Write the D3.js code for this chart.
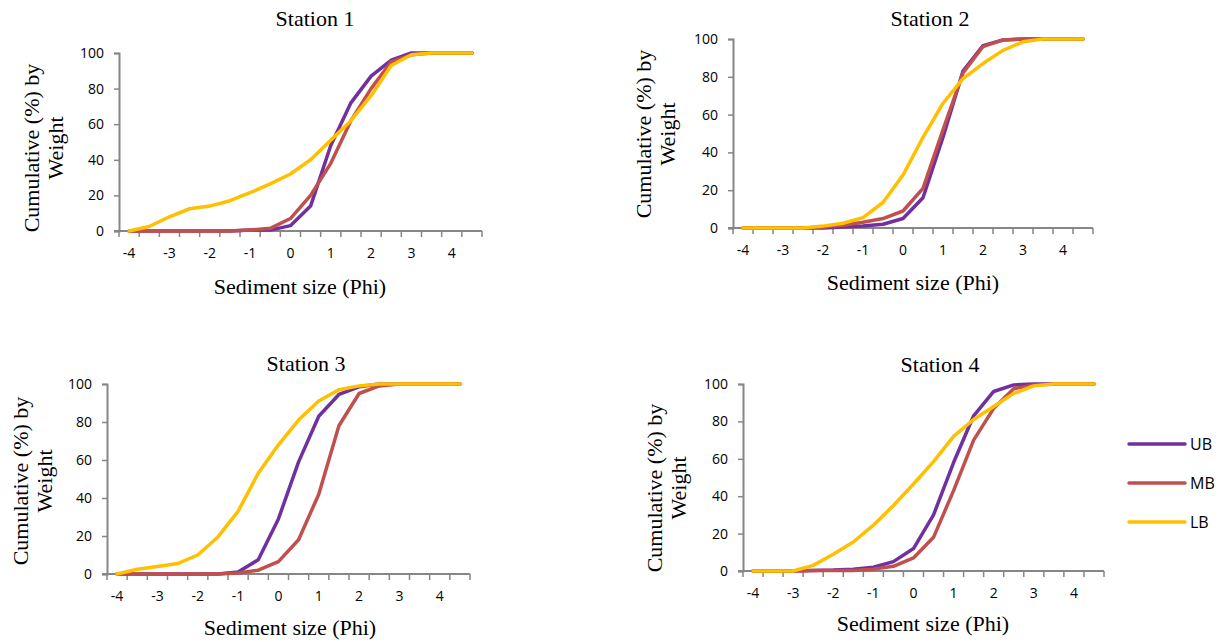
<!DOCTYPE html>
<html>
<head>
<meta charset="utf-8">
<script src="https://cdn.jsdelivr.net/npm/d3@7"></script>
<style>
  body { margin: 0; background: #fff; }
</style>
</head>
<body>
<div id="chart"></div>
<script>
// phi classes on the category axis
const phi = [-4, -3.5, -3, -2.5, -2, -1.5, -1, -0.5, 0, 0.5, 1, 1.5, 2, 2.5, 3, 3.5, 4, 4.5];
const seriesNames = ["UB", "MB", "LB"];
const yTicks = [0, 20, 40, 60, 80, 100];

// cumulative % by weight
const st1UB = [0, 0, 0, 0, 0, 0, 0.5, 0.5, 3, 14, 48, 72, 87, 96, 100, 100, 100, 100];
const st1MB = [0, 0, 0, 0, 0, 0, 0.5, 1.5, 7, 20, 38, 62, 80, 95, 99, 100, 100, 100];
const st1LB = [0, 2.5, 8, 12.5, 14, 17, 21.5, 26.5, 32, 40, 51, 62, 76, 93, 99, 100, 100, 100];

const st2UB = [0, 0, 0, 0, 0, 0.5, 1, 2, 5, 16, 48, 83, 96.5, 99.5, 100, 100, 100, 100];
const st2MB = [0, 0, 0, 0, 0.5, 1.5, 3, 5, 9, 21, 52, 82, 96, 99.5, 100, 100, 100, 100];
const st2LB = [0, 0, 0, 0, 1, 2.5, 5.5, 13.5, 28, 48, 66, 79, 87, 94, 98.5, 100, 100, 100];

const st3UB = [0, 0, 0, 0, 0, 0, 1, 7.5, 29, 59, 83, 94.5, 98.5, 100, 100, 100, 100, 100];
const st3MB = [0, 0, 0, 0, 0, 0, 0.5, 2, 6.5, 18, 42, 78, 95, 99, 100, 100, 100, 100];
const st3LB = [0, 2.5, 4, 5.5, 10, 19.5, 33, 53, 68, 81, 91, 97, 99, 100, 100, 100, 100, 100];

const st4UB = [0, 0, 0, 0.3, 0.5, 1, 2, 5, 12, 30, 58, 83, 96, 99.5, 100, 100, 100, 100];
const st4MB = [0, 0, 0, 0.3, 0.3, 0.3, 1, 2.5, 7, 18, 43, 70, 87, 97.5, 99.5, 100, 100, 100];
const st4LB = [0, 0, 0, 3, 9, 15.5, 24.5, 35, 46.5, 58.5, 72, 81, 88, 95, 99, 100, 100, 100];

const colors = { UB: "#7030A0", MB: "#C0504D", LB: "#FFC000" };

const panels = [
  { title: "Station 1", series: { UB: st1UB, MB: st1MB, LB: st1LB },
    left: 119, right: 482, top: 53, bottom: 231, titleX: 315, titleY: 26, xTitleX: 300, xTitleY: 294, yTitleX: 32, yTitleY: 148 },
  { title: "Station 2", series: { UB: st2UB, MB: st2MB, LB: st2LB },
    left: 733, right: 1093, top: 39, bottom: 228, titleX: 930, titleY: 26, xTitleX: 913, xTitleY: 290, yTitleX: 644, yTitleY: 134 },
  { title: "Station 3", series: { UB: st3UB, MB: st3MB, LB: st3LB },
    left: 107, right: 470, top: 384, bottom: 574, titleX: 306, titleY: 371, xTitleX: 290, xTitleY: 635, yTitleX: 21, yTitleY: 481 },
  { title: "Station 4", series: { UB: st4UB, MB: st4MB, LB: st4LB },
    left: 743, right: 1104, top: 384, bottom: 571, titleX: 940, titleY: 372, xTitleX: 923, xTitleY: 631, yTitleX: 655, yTitleY: 488 }
];

const serif = "'Liberation Serif', 'DejaVu Serif', serif";
const sans = "'Open Sans', 'Liberation Sans', sans-serif";

const svg = d3.select("#chart").append("svg")
  .attr("width", 1224)
  .attr("height", 642);

const axisColor = "#868686";

panels.forEach(p => {
  const x = d3.scaleBand().domain(phi).range([p.left, p.right]).padding(0);
  const y = d3.scaleLinear().domain([0, 100]).range([p.bottom, p.top]);
  const g = svg.append("g");

  // y axis
  const yAxis = g.append("g")
    .attr("transform", `translate(${p.left},0)`)
    .call(d3.axisLeft(y).tickValues(yTicks).tickSize(5).tickPadding(10));
  yAxis.select(".domain").attr("stroke", axisColor).attr("stroke-width", 2);
  yAxis.selectAll(".tick line").attr("stroke", axisColor).attr("stroke-width", 1.5);
  yAxis.selectAll(".tick text")
    .style("font-family", sans).style("font-size", "14px").attr("fill", "#000");

  // x axis (category boundaries)
  const bounds = phi.map(c => x(c)).concat([p.right]);
  g.append("line")
    .attr("x1", p.left - 5).attr("x2", p.right)
    .attr("y1", p.bottom).attr("y2", p.bottom)
    .attr("stroke", axisColor).attr("stroke-width", 2);
  g.selectAll(".xtick").data(bounds).join("line")
    .attr("x1", d => d).attr("x2", d => d)
    .attr("y1", p.bottom).attr("y2", p.bottom + 6)
    .attr("stroke", axisColor).attr("stroke-width", 1.5);
  g.selectAll(".xlab").data(phi.filter(c => Number.isInteger(c))).join("text")
    .style("font-family", sans).style("font-size", "14px")
    .attr("x", d => x(d) + x.bandwidth() / 2)
    .attr("y", p.bottom + 27)
    .attr("text-anchor", "middle")
    .text(d => d);

  // lines
  const line = d3.line()
    .x((d, i) => x(phi[i]) + x.bandwidth() / 2)
    .y(d => y(d));
  seriesNames.forEach(s => {
    g.append("path")
      .datum(p.series[s])
      .attr("d", line)
      .attr("fill", "none")
      .attr("stroke", colors[s])
      .attr("stroke-width", 3.5)
      .attr("stroke-linejoin", "round")
      .attr("stroke-linecap", "round");
  });

  // titles
  g.append("text")
    .style("font-family", serif).style("font-size", "22px")
    .attr("x", p.titleX).attr("y", p.titleY)
    .attr("text-anchor", "middle")
    .text(p.title);
  g.append("text")
    .style("font-family", serif).style("font-size", "22px")
    .attr("x", p.xTitleX).attr("y", p.xTitleY)
    .attr("text-anchor", "middle")
    .text("Sediment size (Phi)");
  const yt = g.append("text")
    .style("font-family", serif).style("font-size", "22px")
    .attr("transform", `translate(${p.yTitleX},${p.yTitleY}) rotate(-90)`)
    .attr("text-anchor", "middle");
  yt.append("tspan").attr("x", 0).attr("dy", 7).text("Cumulative (%) by");
  yt.append("tspan").attr("x", 0).attr("dy", 24).text("Weight");
});

// legend
const legend = svg.append("g");
seriesNames.forEach((s, i) => {
  const ly = 444 + i * 39;
  legend.append("line")
    .attr("x1", 1129).attr("x2", 1185)
    .attr("y1", ly).attr("y2", ly)
    .attr("stroke", colors[s]).attr("stroke-width", 3.5)
    .attr("stroke-linecap", "round");
  legend.append("text")
    .attr("x", 1190).attr("y", ly + 6)
    .style("font-family", sans)
    .style("font-size", "16px")
    .text(s);
});
</script>
</body>
</html>
